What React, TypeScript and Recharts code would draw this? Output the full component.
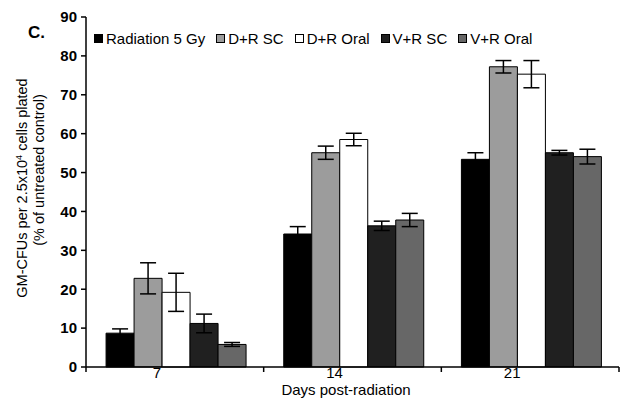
import React from 'react';
import { BarChart, Bar, XAxis, YAxis, ErrorBar } from 'recharts';

const categories = ['7', '14', '21'];
const seriesNames = ['Radiation 5 Gy', 'D+R SC', 'D+R Oral', 'V+R SC', 'V+R Oral'];
const radiation = [8.7, 34.2, 53.4];
const radiationErr = [1.1, 1.9, 1.7];
const drSC = [22.8, 55.1, 77.2];
const drSCErr = [4.0, 1.7, 1.6];
const drOral = [19.2, 58.5, 75.3];
const drOralErr = [4.9, 1.6, 3.5];
const vrSC = [11.2, 36.3, 55.1];
const vrSCErr = [2.4, 1.2, 0.6];
const vrOral = [5.8, 37.8, 54.1];
const vrOralErr = [0.5, 1.7, 1.9];
const yTicks = [0, 10, 20, 30, 40, 50, 60, 70, 80, 90];

const colors = ['#000000', '#9c9c9c', '#ffffff', '#202020', '#676767'];
const keys = ['rad', 'drsc', 'droral', 'vrsc', 'vroral'];
const values = [radiation, drSC, drOral, vrSC, vrOral];
const errors = [radiationErr, drSCErr, drOralErr, vrSCErr, vrOralErr];

const data = categories.map((c, i) => {
  const row: any = { day: c };
  keys.forEach((k, s) => {
    row[k] = values[s][i];
    row[k + 'Err'] = errors[s][i];
  });
  return row;
});

const W = 621;
const H = 398;
const YAXIS_W = 86;
const MARGIN = { top: 17, right: 2, left: 0, bottom: 0 };
const PLOT_W = W - YAXIS_W - MARGIN.left - MARGIN.right;
const BAND = PLOT_W / categories.length;
const FONT = 'Arial, "Liberation Sans", sans-serif';

const XTick = (props: any) => {
  const { x, y, index } = props;
  const left = x - BAND / 2;
  return (
    <g>
      <line x1={left} x2={left} y1={y} y2={y + 5} stroke="#000" strokeWidth={1.5} />
      {index === categories.length - 1 && (
        <line x1={x + BAND / 2} x2={x + BAND / 2} y1={y} y2={y + 5} stroke="#000" strokeWidth={1.5} />
      )}
      <text x={x - 18} y={y + 11} textAnchor="middle" fontSize={15} fontFamily={FONT} fill="#000">
        {props.payload.value}
      </text>
    </g>
  );
};

export default function App() {
  return (
    <div style={{ position: 'absolute', left: 0, top: 0, width: W, height: H, background: '#fff' }}>
      <BarChart
        width={W}
        height={H}
        data={data}
        margin={MARGIN}
        barCategoryGap="11.3%"
        barGap={0}
      >
        <XAxis
          dataKey="day"
          height={31}
          axisLine={{ stroke: '#000', strokeWidth: 1.5 }}
          tickLine={false}
          tickSize={0}
          tickMargin={0}
          tick={<XTick />}
          interval={0}
        />
        <YAxis
          width={YAXIS_W}
          domain={[0, 90]}
          ticks={yTicks}
          interval={0}
          axisLine={{ stroke: '#000', strokeWidth: 1.5 }}
          tickLine={{ stroke: '#000', strokeWidth: 1.5 }}
          tickSize={5}
          tickMargin={4}
          tick={{ fontSize: 15, fontWeight: 'bold', fill: '#000', fontFamily: FONT }}
        />
        {keys.map((k, s) => (
          <Bar
            key={k}
            dataKey={k}
            name={seriesNames[s]}
            fill={colors[s]}
            stroke="#000"
            strokeWidth={1}
            isAnimationActive={false}
          >
            <ErrorBar dataKey={k + 'Err'} width={8} stroke="#000" strokeWidth={1.5} />
          </Bar>
        ))}
      </BarChart>
      <svg width={W} height={H} style={{ position: 'absolute', left: 0, top: 0, pointerEvents: 'none' }}>
        <text x={28} y={38} fontSize={17} fontWeight="bold" fontFamily={FONT} fill="#000">C.</text>
        <text
          transform="translate(27,188) rotate(-90)"
          textAnchor="middle"
          fontSize={14.5}
          fontFamily={FONT}
          fill="#000"
        >
          GM-CFUs per 2.5x10<tspan fontSize={9} dy={-5}>4</tspan>
          <tspan dy={5}> cells plated</tspan>
        </text>
        <text
          transform="translate(44,170) rotate(-90)"
          textAnchor="middle"
          fontSize={14.5}
          fontFamily={FONT}
          fill="#000"
        >
          (% of untreated control)
        </text>
        <text x={346} y={395} textAnchor="middle" fontSize={15} fontFamily={FONT} fill="#000">
          Days post-radiation
        </text>
      </svg>
      <div
        style={{
          position: 'absolute',
          left: 94,
          top: 30,
          display: 'flex',
          alignItems: 'center',
          fontFamily: FONT,
          fontSize: 15,
          color: '#000',
          whiteSpace: 'nowrap',
          lineHeight: '17px',
        }}
      >
        {seriesNames.map((n, s) => (
          <div key={n} style={{ display: 'flex', alignItems: 'center', marginRight: 11 }}>
            <span
              style={{
                display: 'inline-block',
                width: 7,
                height: 7,
                background: colors[s],
                border: '1px solid #000',
                marginRight: 3,
              }}
            />
            <span>{n}</span>
          </div>
        ))}
      </div>
    </div>
  );
}
